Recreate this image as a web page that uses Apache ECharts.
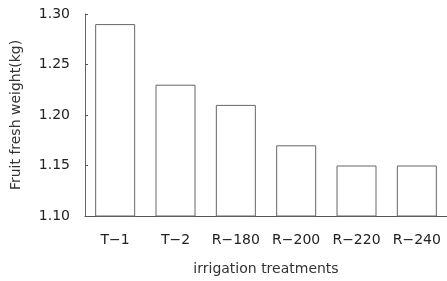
<!DOCTYPE html>
<html>
<head>
<meta charset="utf-8">
<script src="https://cdn.jsdelivr.net/npm/echarts@6/dist/echarts.min.js"></script>
<style>
html, body { margin: 0; padding: 0; background: #fff; }
#chart { width: 447px; height: 281px; }
</style>
</head>
<body>
<div id="chart"></div>
<script>
// fruit fresh weight by irrigation treatment
var categories = ['T-1', 'T-2', 'R-180', 'R-200', 'R-220', 'R-240'];
var weights = [1.29, 1.23, 1.21, 1.17, 1.15, 1.15];
var yTicks = [1.10, 1.15, 1.20, 1.25, 1.30];

var myChart = echarts.init(document.getElementById('chart'));
var fontFamily = '"DejaVu Sans", "Liberation Sans", sans-serif';

var option = {
	animation: false,
	grid: { left: 85, top: 14, width: 364, height: 204 },
	xAxis: {
		type: 'category',
		data: categories,
		name: 'irrigation treatments',
		nameLocation: 'middle',
		nameGap: 46,
		nameTextStyle: { color: '#333', fontSize: 14, fontFamily: fontFamily },
		axisLine: { lineStyle: { color: '#555', width: 1 } },
		axisTick: { show: false },
		axisLabel: {
			interval: 0,
			color: '#222', fontSize: 14, margin: 17, fontFamily: fontFamily,
			formatter: function(v) { return v.replace('-', '\u2212'); }
		}
	},
	yAxis: {
		type: 'value',
		min: yTicks[0],
		max: yTicks[yTicks.length - 1],
		interval: 0.05,
		name: 'Fruit fresh weight(kg)',
		nameLocation: 'middle',
		nameGap: 62,
		nameTextStyle: { color: '#333', fontSize: 14, fontFamily: fontFamily },
		splitLine: { show: false },
		axisLine: { show: true, lineStyle: { color: '#666', width: 1 } },
		axisTick: { show: true, inside: true, length: 3, lineStyle: { color: '#555' } },
		axisLabel: {
			color: '#222', fontSize: 14, margin: 15, fontFamily: fontFamily,
			formatter: function(v) { return v.toFixed(2); }
		}
	},
	series: [
		{
			type: 'bar',
			data: weights,
			barWidth: 40,
			itemStyle: { color: 'rgba(255,255,255,0)', borderColor: '#666', borderWidth: 1 }
		}
	]
};
myChart.setOption(option);
</script>
</body>
</html>
